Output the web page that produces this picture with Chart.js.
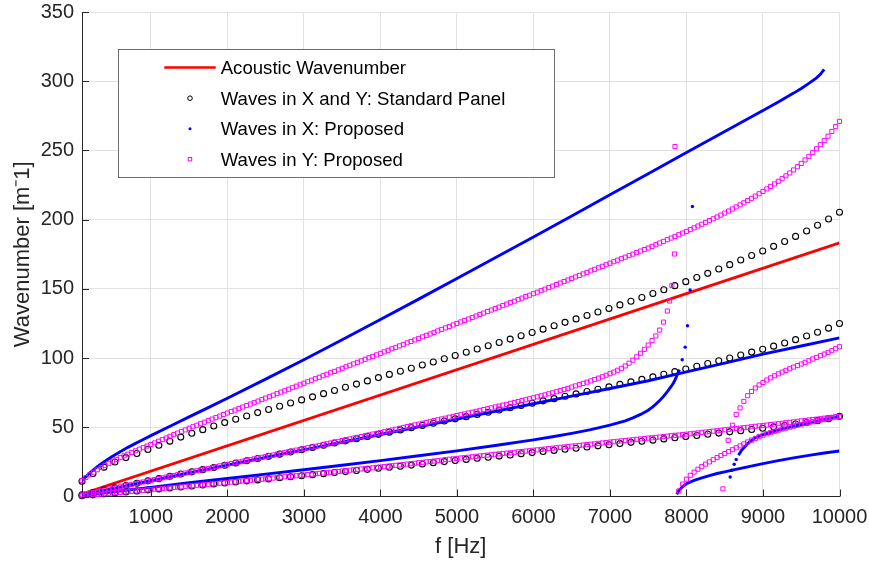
<!DOCTYPE html>
<html>
<head>
<meta charset="utf-8">
<script src="https://cdn.jsdelivr.net/npm/chart.js@4.4.1/dist/chart.umd.min.js"></script>
<style>
html,body{margin:0;padding:0;background:#ffffff;}
#wrap{width:869px;height:562px;position:relative;}
</style>
</head>
<body>
<div id="wrap"><canvas id="c" width="869" height="562"></canvas></div>
<script>
// ---------- axis ticks ----------
const xTickValues = [1000,2000,3000,4000,5000,6000,7000,8000,9000,10000];
const yTickValues = [0,50,100,150,200,250,300,350];

// ---------- legend labels ----------
const legendLabels = ['Acoustic Wavenumber','Waves in X and Y: Standard Panel','Waves in X: Proposed','Waves in Y: Proposed'];

// ---------- acoustic wavenumber ----------
const freqAcoustic = [100,10000];
const kAcoustic = [1.83,183.2];

// ---------- standard panel (circles) ----------
const freqStd = [100,243,387,530,674,817,961,1104,1248,1391,
1535,1678,1822,1965,2109,2252,2396,2539,2683,2826,
2970,3113,3257,3400,3543,3687,3830,3974,4117,4261,
4404,4548,4691,4835,4978,5122,5265,5409,5552,5696,
5839,5983,6126,6270,6413,6557,6700,6843,6987,7130,
7274,7417,7561,7704,7848,7991,8135,8278,8422,8565,
8709,8852,8996,9139,9283,9426,9570,9713,9857,10000];
const kStdUpper = [11,16.6,21.2,24.9,28.1,31.1,34.0,37.0,40.0,42.9,
45.7,48.3,50.9,53.4,55.8,58.2,60.6,62.9,65.2,67.5,
69.8,72,74.3,76.6,78.9,81.2,83.5,85.9,88.2,90.5,
92.7,95,97.2,99.5,101.9,104.2,106.5,108.9,111.3,113.7,
116.1,118.5,120.9,123.4,125.8,128.3,130.8,133.3,135.8,138.4,
141.1,143.8,146.6,149.4,152.3,155.2,158.2,161.2,164.3,167.5,
170.8,174.1,177.4,180.7,184.2,187.9,191.8,196,200.5,205.3];
const kStdMid = [1.2,2.9,4.6,6.2,7.9,9.6,11.3,12.9,14.6,16.2,
17.8,19.4,21,22.6,24.2,25.8,27.4,29,30.6,32.2,
33.8,35.4,37,38.6,40.2,41.7,43.3,44.9,46.5,48.1,
49.7,51.3,52.9,54.5,56.1,57.7,59.3,60.9,62.5,64.1,
65.8,67.4,69.1,70.7,72.4,74.1,75.8,77.5,79.2,81,
82.8,84.6,86.4,88.3,90.2,92.1,94.1,96.1,98.1,100.1,
102.2,104.3,106.4,108.6,110.9,113.3,115.9,118.6,121.6,125];
const kStdLow = [0.5,1.2,1.9,2.6,3.3,4.0,4.8,5.5,6.2,6.9,
7.6,8.3,9.1,9.8,10.5,11.3,12.0,12.7,13.5,14.3,
15.0,15.8,16.5,17.3,18.0,18.8,19.6,20.4,21.1,21.9,
22.7,23.5,24.4,25.2,26.0,26.8,27.6,28.4,29.2,30.0,
30.9,31.7,32.5,33.3,34.1,34.9,35.8,36.6,37.4,38.2,
39.1,39.9,40.7,41.6,42.4,43.3,44.1,45.0,45.8,46.7,
47.5,48.4,49.3,50.3,51.3,52.4,53.5,54.8,56.2,57.9];

// ---------- waves in X, proposed (blue) ----------
const freqXTop = [100,200,300,400,500,600,700,800,900,1000,1250,1500,1750,2000,2500,3000,3500,4000,4500,5000,5500,6000,6500,7000,7500,8000,8500,9000,9200,9400,9500,9600,9700,9750,9800];
const kXTop = [11.8,17.0,21.5,25.5,29.1,32.4,35.5,38.4,41.2,44.0,50.8,57.5,64.2,71.0,84.8,98.8,113.3,127.8,142.6,157.5,172.5,187.5,202.7,218.0,233.2,248.5,263.7,278.9,285.0,291.4,294.8,298.4,302.4,305.0,308.6];
const freqXMid = [100,500,1000,1500,2000,2500,3000,3500,4000,4500,5000,5500,6000,6500,7000,7500,8000,8500,9000,9500,10000];
const kXMid = [1.1,5.6,11.4,17.1,22.7,28.2,33.7,39.2,44.8,50.4,56.0,61.5,67.0,72.5,78.0,83.6,90.0,96.4,102.8,108.7,114.6];
const freqXLow = [100,200,300,400,500,700,1000,1500,2000,2500,3000,3500,4000,4500,5000,5500,6000,6250,6500,6750,7000,7200,7300,7400,7500,7550,7600,7650,7700,7750,7800,7830,7861,7882,7908];
const kXLow = [0.5,1.3,2.0,2.7,3.4,4.7,6.6,9.9,13.0,16.2,19.3,22.6,25.9,29.4,33.0,36.8,40.9,43.2,45.6,48.3,51.5,54.7,56.8,59.3,62.3,64.4,66.7,69.3,72.3,75.8,79.5,82.0,85.5,88.5,91.6];
const freqXHigh1 = [7874,7900,7950,8000,8100,8200,8300,8400,8500,8600,8800,9000,9200,9400,9600,9800,10000];
const kXHigh1 = [1.5,4.3,7.2,9.2,11.6,13.4,15.1,16.6,17.8,19.0,21.4,23.7,25.9,27.9,29.7,31.4,32.9];
const freqXHigh2 = [8680,8715,8750,8800,8850,8900,9000,9200,9400,9600,9800,10000];
const kXHigh2 = [29.8,32.9,35.3,38.2,40.6,42.5,44.7,48.0,50.9,53.3,55.5,57.9];
const freqXSparse = [7944,7983,8013,8048,8078,8571,8593,8624,8650];
const kXSparse = [98.8,107.9,123.3,149.2,209.5,14.1,19.0,23.3,26.7];

// ---------- waves in Y, proposed (magenta) ----------
const freqGrid = [100,150,200,250,300,350,400,450,500,550,600,650,700,750,800,850,900,950,1000,
1050,1100,1150,1200,1250,1300,1350,1400,1450,1500,1550,1600,1650,1700,1750,1800,1850,1900,1950,2000,
2050,2100,2150,2200,2250,2300,2350,2400,2450,2500,2550,2600,2650,2700,2750,2800,2850,2900,2950,3000,
3050,3100,3150,3200,3250,3300,3350,3400,3450,3500,3550,3600,3650,3700,3750,3800,3850,3900,3950,4000,
4050,4100,4150,4200,4250,4300,4350,4400,4450,4500,4550,4600,4650,4700,4750,4800,4850,4900,4950,5000,
5050,5100,5150,5200,5250,5300,5350,5400,5450,5500,5550,5600,5650,5700,5750,5800,5850,5900,5950,6000,
6050,6100,6150,6200,6250,6300,6350,6400,6450,6500,6550,6600,6650,6700,6750,6800,6850,6900,6950,7000,
7050,7100,7150,7200,7250,7300,7350,7400,7450,7500,7550,7600,7650,7700,7750,7800,7850,7900,7950,8000,
8050,8100,8150,8200,8250,8300,8350,8400,8450,8500,8550,8600,8650,8700,8750,8800,8850,8900,8950,9000,
9050,9100,9150,9200,9250,9300,9350,9400,9450,9500,9550,9600,9650,9700,9750,9800,9850,9900,9950,10000];
const kYTop = [11.5,13.7,15.7,17.6,19.3,20.9,22.5,24.0,25.4,26.8,28.1,29.4,30.6,31.8,33.0,34.2,35.3,36.4,37.5,
38.7,39.9,41.1,42.3,43.5,44.7,45.8,47.0,48.1,49.3,50.4,51.5,52.6,53.7,54.8,55.9,57.0,58.1,59.2,60.3,
61.4,62.4,63.5,64.6,65.7,66.8,67.8,68.9,70.0,71.1,72.1,73.2,74.3,75.4,76.4,77.5,78.6,79.7,80.7,81.8,
82.9,84.0,85.1,86.1,87.2,88.3,89.4,90.4,91.5,92.6,93.7,94.8,95.8,96.9,98.0,99.1,100.2,101.2,102.3,103.4,
104.5,105.6,106.7,107.7,108.8,109.9,111.0,112.0,113.1,114.2,115.3,116.4,117.4,118.5,119.6,120.7,121.8,122.8,123.9,125.0,
126.1,127.2,128.2,129.3,130.4,131.5,132.5,133.6,134.7,135.8,136.8,137.9,139.0,140.1,141.1,142.2,143.3,144.4,145.4,146.5,
147.6,148.7,149.8,150.9,152.0,153.1,154.2,155.3,156.4,157.5,158.6,159.7,160.8,161.9,163.0,164.1,165.2,166.3,167.4,168.5,
169.6,170.7,171.8,172.9,174.0,175.1,176.2,177.3,178.4,179.5,180.7,181.9,183.1,184.3,185.5,186.7,187.9,189.1,190.3,191.5,
192.8,194.1,195.4,196.7,198.0,199.3,200.6,201.9,203.3,204.7,206.2,207.7,209.2,210.7,212.2,213.8,215.4,217.0,218.7,220.4,
222.2,224.0,225.8,227.7,229.6,231.6,233.7,235.9,238.2,240.6,243.1,245.7,248.4,251.2,254.1,257.1,260.3,263.7,267.2,271.0];
const kYMid = [1.2,1.8,2.4,2.9,3.5,4.1,4.7,5.3,5.9,6.4,7.0,7.6,8.2,8.8,9.4,9.9,10.5,11.1,11.7,
12.3,12.9,13.4,14.0,14.6,15.2,15.7,16.3,16.9,17.5,18.0,18.6,19.2,19.8,20.3,20.9,21.5,22.1,22.6,23.2,
23.8,24.3,24.9,25.5,26.1,26.6,27.2,27.8,28.3,28.9,29.5,30.0,30.6,31.2,31.8,32.3,32.9,33.5,34.0,34.6,
35.2,35.8,36.3,36.9,37.5,38.1,38.7,39.3,39.8,40.4,41.0,41.6,42.2,42.7,43.3,43.9,44.5,45.1,45.6,46.2,
46.8,47.4,48.0,48.6,49.3,49.9,50.5,51.1,51.7,52.3,52.9,53.5,54.2,54.8,55.4,56.0,56.6,57.3,57.9,58.5,
59.1,59.7,60.3,60.9,61.5,62.2,62.8,63.4,64.0,64.7,65.3,66.0,66.6,67.3,67.9,68.6,69.3,69.9,70.6,71.3,
72.0,72.7,73.4,74.2,74.9,75.7,76.5,77.3,78.1,79.0,79.9,80.8,81.7,82.6,83.5,84.5,85.5,86.5,87.6,88.7,
89.9,91.2,92.6,94.3,96.3,98.5,100.9,103.5,106.3,109.4,112.6,116.0,120.2,126.0,134.0];
const kYLow = [0.5,0.8,1.0,1.3,1.5,1.8,2.0,2.3,2.5,2.8,3.0,3.3,3.5,3.8,4.0,4.3,4.5,4.8,5.0,
5.3,5.5,5.8,6.0,6.3,6.5,6.8,7.0,7.3,7.6,7.8,8.1,8.3,8.6,8.8,9.1,9.3,9.6,9.8,10.1,
10.4,10.6,10.9,11.2,11.4,11.7,12.0,12.3,12.5,12.8,13.1,13.3,13.6,13.9,14.2,14.4,14.7,15.0,15.2,15.5,
15.8,16.1,16.4,16.7,17.0,17.2,17.5,17.8,18.1,18.4,18.7,19.0,19.3,19.6,19.9,20.1,20.4,20.7,21.0,21.3,
21.6,21.9,22.2,22.5,22.8,23.1,23.4,23.7,24.0,24.4,24.7,25.0,25.3,25.6,25.9,26.2,26.6,26.9,27.2,27.5,
27.8,28.1,28.4,28.7,29.0,29.3,29.6,29.9,30.2,30.5,30.8,31.1,31.3,31.6,31.9,32.2,32.5,32.8,33.1,33.4,
33.7,34.0,34.3,34.6,34.9,35.2,35.5,35.8,36.1,36.4,36.6,36.9,37.2,37.5,37.8,38.1,38.4,38.7,39.0,39.3,
39.6,39.9,40.2,40.4,40.7,41.0,41.3,41.6,41.9,42.2,42.4,42.7,43.0,43.3,43.6,43.9,44.2,44.4,44.7,45.0,
45.3,45.6,45.9,46.3,46.6,46.9,47.2,47.5,47.8,48.2,48.5,48.8,49.1,49.4,49.7,50.0,50.4,50.7,51.0,51.3,
51.6,52.0,52.3,52.6,52.9,53.3,53.6,53.9,54.3,54.6,54.9,55.3,55.6,55.9,56.2,56.6,56.9,57.2,57.6,57.9];
const freqYRise = freqGrid.slice(156);   // 7900 .. 10000
const kYRise = [4.0,9.0,12.5,15.3,17.6,19.7,21.6,23.4,25.0,26.6,
28.1,29.6,31.0,32.4,33.8,35.2,36.6,38.0,39.4,40.7,
42.0,43.2,44.3,45.3,46.2,47.1,47.9,48.7,49.4,50.1,
50.8,51.5,52.2,52.8,53.4,54.0,54.6,55.2,55.8,56.4,
56.9,57.4,57.9];
const freqYUpper2 = freqGrid.slice(170); // 8600 .. 10000
const kYUpper2 = [51.5,59.3,64.0,68.7,72.8,75.9,78.4,80.6,82.4,84.1,
85.7,87.2,88.6,89.9,91.1,92.3,93.5,94.6,95.7,96.9,
98.1,99.3,100.5,101.7,102.9,104.1,105.4,106.8,108.2];
const freqYExtra = [7780,7810,7843,7850,8476,8545];
const kYExtra = [141.2,152.5,175.2,252.8,5.5,40.6];

// ---------- helpers ----------
function pairs(xs, ys) {
  const n = Math.min(xs.length, ys.length);
  const out = [];
  for (let i = 0; i < n; i++) out.push({x: xs[i], y: ys[i]});
  return out;
}
const FONT = '"Liberation Sans", Arial, Helvetica, sans-serif';
Chart.defaults.font.family = FONT;

const circleStyle = {showLine:false, pointStyle:'circle', pointRadius:3.0, pointBorderWidth:1.1,
  pointBorderColor:'#000000', pointBackgroundColor:'rgba(0,0,0,0)', borderColor:'#000000',
  backgroundColor:'rgba(0,0,0,0)', clip:false, order:3};
const squareStyle = {showLine:false, pointStyle:'rect', pointRadius:2.9, pointBorderWidth:1,
  pointBorderColor:'#ff00ff', pointBackgroundColor:'rgba(0,0,0,0)', borderColor:'#ff00ff',
  backgroundColor:'rgba(0,0,0,0)', clip:false, order:1};
const blueLine = {showLine:true, borderColor:'#0000ff', backgroundColor:'#0000ff', borderWidth:2.9,
  pointRadius:0, fill:false, tension:0, order:2};
const blueDot = {showLine:false, pointStyle:'circle', pointRadius:1.7, pointBorderWidth:0,
  pointBackgroundColor:'#0000ff', borderColor:'#0000ff', clip:false, order:2};

const datasets = [
  {label:legendLabels[0], data:pairs(freqAcoustic,kAcoustic), showLine:true, borderColor:'#ff0000',
   backgroundColor:'#ff0000', borderWidth:2.8, pointRadius:0, order:4},
  Object.assign({label:legendLabels[1], data:pairs(freqStd,kStdUpper)}, circleStyle),
  Object.assign({label:legendLabels[1], data:pairs(freqStd,kStdMid)}, circleStyle),
  Object.assign({label:legendLabels[1], data:pairs(freqStd,kStdLow)}, circleStyle),
  Object.assign({label:legendLabels[2], data:pairs(freqXTop,kXTop)}, blueLine),
  Object.assign({label:legendLabels[2], data:pairs(freqXMid,kXMid)}, blueLine),
  Object.assign({label:legendLabels[2], data:pairs(freqXLow,kXLow)}, blueLine),
  Object.assign({label:legendLabels[2], data:pairs(freqXHigh1,kXHigh1)}, blueLine),
  Object.assign({label:legendLabels[2], data:pairs(freqXHigh2,kXHigh2)}, blueLine),
  Object.assign({label:legendLabels[2], data:pairs(freqXSparse,kXSparse)}, blueDot),
  Object.assign({label:legendLabels[3], data:pairs(freqGrid,kYTop)}, squareStyle),
  Object.assign({label:legendLabels[3], data:pairs(freqGrid,kYMid)}, squareStyle),
  Object.assign({label:legendLabels[3], data:pairs(freqGrid,kYLow)}, squareStyle),
  Object.assign({label:legendLabels[3], data:pairs(freqYRise,kYRise)}, squareStyle),
  Object.assign({label:legendLabels[3], data:pairs(freqYUpper2,kYUpper2)}, squareStyle),
  Object.assign({label:legendLabels[3], data:pairs(freqYExtra,kYExtra)}, squareStyle)
];

const axisPlugin = {
  id: 'matlabAxes',
  afterDraw(chart) {
    const ctx = chart.ctx;
    const xs = chart.scales.x, ys = chart.scales.y;
    const area = chart.chartArea;
    ctx.save();
    // inward tick marks
    ctx.strokeStyle = '#262626';
    ctx.lineWidth = 1;
    ctx.beginPath();
    xTickValues.forEach(v => {
      const px = Math.round(xs.getPixelForValue(v)) + 0.5;
      ctx.moveTo(px, area.bottom);
      ctx.lineTo(px, area.bottom - 7);
    });
    yTickValues.forEach(v => {
      const py = Math.round(ys.getPixelForValue(v)) + 0.5;
      ctx.moveTo(area.left, py);
      ctx.lineTo(area.left + 7, py);
    });
    ctx.stroke();

    // legend
    const bx = 118.5, by = 49.5, bw = 436, bh = 128;
    ctx.fillStyle = '#ffffff';
    ctx.fillRect(bx, by, bw, bh);
    ctx.strokeStyle = '#6e6e6e';
    ctx.lineWidth = 1;
    ctx.strokeRect(bx, by, bw, bh);
    const rows = [68.7, 99.4, 129.9, 160.4];
    ctx.font = '18.6px ' + FONT;
    ctx.fillStyle = '#000000';
    ctx.textAlign = 'left';
    ctx.textBaseline = 'middle';
    legendLabels.forEach((t, i) => ctx.fillText(t, 220.7, rows[i]));
    // red line sample
    ctx.strokeStyle = '#ff0000';
    ctx.lineWidth = 2.7;
    ctx.beginPath();
    ctx.moveTo(164.3, rows[0] - 1.2);
    ctx.lineTo(215.7, rows[0] - 1.2);
    ctx.stroke();
    // circle sample
    ctx.strokeStyle = '#000000';
    ctx.lineWidth = 1;
    ctx.beginPath();
    ctx.arc(190, rows[1] - 1.2, 2.3, 0, Math.PI * 2);
    ctx.stroke();
    // dot sample
    ctx.fillStyle = '#0000ff';
    ctx.beginPath();
    ctx.arc(190, rows[2] - 1.2, 1.5, 0, Math.PI * 2);
    ctx.fill();
    // square sample
    ctx.strokeStyle = '#ff00ff';
    ctx.strokeRect(188.3, rows[3] - 2.9, 3.4, 3.4);
    ctx.restore();
  }
};

new Chart(document.getElementById('c'), {
  type: 'scatter',
  data: {datasets},
  options: {
    responsive: false,
    devicePixelRatio: 1,
    animation: false,
    events: [],
    layout: {padding: {top: 12, right: 29.5, bottom: 0, left: 0}},
    plugins: {legend: {display: false}, tooltip: {enabled: false}},
    scales: {
      x: {
        type: 'linear', position: 'bottom', min: 100, max: 10000,
        afterBuildTicks: s => { s.ticks = xTickValues.map(v => ({value: v})); },
        afterFit: s => { s.height = 65.5; s.paddingLeft = 0; s.paddingRight = 0; },
        ticks: {autoSkip: false, maxRotation: 0, minRotation: 0, padding: 9, color: '#262626',
                font: {size: 20, family: FONT}, callback: v => String(v)},
        grid: {color: '#e2e2e2', lineWidth: 1, drawTicks: false},
        border: {display: true, color: '#262626', width: 1},
        title: {display: true, text: 'f [Hz]', color: '#262626', font: {size: 22, family: FONT},
                padding: {top: 0, bottom: 1.5}}
      },
      y: {
        type: 'linear', position: 'left', min: 0, max: 350,
        afterBuildTicks: s => { s.ticks = yTickValues.map(v => ({value: v})); },
        afterFit: s => { s.width = 82; s.paddingTop = 0; s.paddingBottom = 0; },
        ticks: {padding: 8, color: '#262626', font: {size: 20, family: FONT}, callback: v => String(v)},
        grid: {color: '#e2e2e2', lineWidth: 1, drawTicks: false},
        border: {display: true, color: '#262626', width: 1},
        title: {display: true, text: 'Wavenumber [m\u207B1]', color: '#262626', font: {size: 22, family: FONT},
                padding: {top: 9.5, bottom: 0}}
      }
    }
  },
  plugins: [axisPlugin]
});
</script>
</body>
</html>
